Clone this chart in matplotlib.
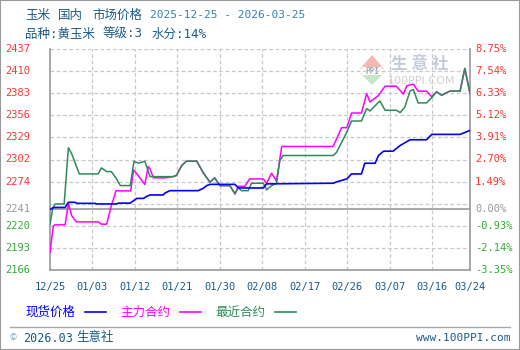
import matplotlib
matplotlib.use("Agg")
import matplotlib.pyplot as plt
import matplotlib.transforms as mtransforms
from matplotlib.lines import Line2D
from matplotlib.patches import Rectangle, Polygon
import numpy as np
import pandas as pd

plt.rcParams['font.family'] = ['Noto Sans CJK SC', 'DejaVu Sans']

# ---------------- data ----------------
start_date = "2025-12-25"
base_price = 2241

spot_day = [0, 0.7, 3.2, 3.9, 5.3, 5.8, 9.5, 10, 14.1, 14.5, 17, 17.7, 18.4, 19.8, 20.5, 21.2, 24, 24.4,
            25.4, 31.4, 32.5, 33.2, 33.9, 39.2, 39.9, 45.2, 45.9, 60, 60.7, 62.9, 63.9, 66, 66.7, 68.9,
            69.6, 70.7, 72.7, 74.2, 76.3, 79.8, 80.9, 86.9, 89]
spot_val = [2240, 2242.7, 2242.7, 2249, 2249, 2247.7, 2247.7, 2247, 2247, 2248, 2248, 2251, 2253.8, 2253.8,
            2256.3, 2258, 2258, 2260.5, 2263.3, 2263.3, 2266.2, 2269.5, 2271, 2271, 2266.6, 2266.6, 2271.6,
            2272.4, 2274, 2277.7, 2283.8, 2283.8, 2296.9, 2296.9, 2306.4, 2311.7, 2311.7, 2318.7, 2325.7,
            2325.7, 2332.3, 2332.3, 2337.2]

main_day = [0, 0.7, 1.1, 3.2, 3.9, 4.6, 5.6, 10.2, 10.9, 12, 13, 14, 14.8, 17.1, 17.7, 18.7, 20.1, 20.8,
            21.2, 21.9, 24.4, 26.1, 26.8, 27.9, 28.9, 31.1, 32.5, 33.9, 34.9, 36, 38.1, 39.2, 39.9, 41.3,
            42.3, 45.2, 45.9, 46.96, 48, 49.1, 60, 61.8, 62.9, 63.9, 66, 67.1, 67.8, 69.6, 71, 73.4, 74.9,
            75.6, 77, 78, 79.8, 80.9, 81.9, 83, 84.7, 86.9, 87.9, 89]
main_val = [2187.3, 2220.2, 2221.4, 2221.4, 2247.7, 2232.5, 2225, 2225, 2222.2, 2222.2, 2244.8, 2263.3,
            2263, 2263, 2288.7, 2281.7, 2270.7, 2292.9, 2290, 2279, 2279, 2280.5, 2282, 2294, 2299.4,
            2299.4, 2285, 2273.6, 2279, 2269.5, 2269.5, 2259, 2268.6, 2268.6, 2277.7, 2277.7, 2272.4,
            2284.6, 2275, 2317.5, 2317.5, 2340.5, 2340.5, 2358.5, 2358.5, 2382.4, 2372.1, 2380, 2391.4,
            2391.4, 2381.6, 2392, 2393.9, 2385.3, 2385.3, 2378.3, 2384.5, 2380.3, 2385.3, 2385.3, 2413.2,
            2382.4]

near_day = [0, 0.56, 1.1, 3, 3.9, 4.6, 6.2, 10.2, 10.9, 12, 13, 14.1, 14.9, 17, 17.8, 18.7, 20.1, 21.2,
            26.1, 26.8, 27.9, 28.9, 31.1, 32.5, 33.9, 34.9, 36, 38.1, 39.2, 39.9, 40.6, 42, 42.7, 45.2,
            45.9, 46.96, 48, 48.7, 49.4, 60, 60.7, 62.9, 63.9, 66, 67.1, 67.8, 69.9, 71, 73.4, 74.2, 75.2,
            76.3, 77, 78, 79.8, 80.9, 81.9, 83, 84.7, 86.9, 87.9, 89]
near_val = [2222, 2240.7, 2247, 2247, 2316, 2308.5, 2283.8, 2283.8, 2291.2, 2286.7, 2286.7, 2277.7,
            2269.5, 2269.5, 2299.4, 2297, 2299.4, 2280.5, 2280.5, 2282, 2294, 2299.4, 2299.4, 2285,
            2273.6, 2279, 2269.5, 2269.5, 2260, 2266.6, 2263.3, 2263.3, 2272.4, 2272.4, 2264.2, 2269.5,
            2272.4, 2300.3, 2306.4, 2306.4, 2310, 2335.1, 2348.7, 2348.7, 2363.9, 2361, 2373.3, 2361.9,
            2361.9, 2359, 2366, 2385.7, 2387.3, 2370.9, 2370.9, 2377.5, 2384.5, 2380.3, 2385.3, 2385.3,
            2413.2, 2382.4]

left_ticks = [2437, 2410, 2383, 2356, 2329, 2302, 2274, 2241, 2220, 2193, 2166]
right_ticks = ["8.75%", "7.54%", "6.33%", "5.12%", "3.91%", "2.70%", "1.49%", "0.00%",
               "-0.93%", "-2.14%", "-3.35%"]
right_pct = [8.75, 7.54, 6.33, 5.12, 3.91, 2.70, 1.49, 0.00, -0.93, -2.14, -3.35]
x_tick_dates = ["2025-12-25", "2026-01-03", "2026-01-12", "2026-01-21", "2026-01-30", "2026-02-08",
                "2026-02-17", "2026-02-26", "2026-03-07", "2026-03-16", "2026-03-24"]
series_names = ["现货价格", "主力合约", "最近合约"]

title1_words = ["玉米", "国内", "市场价格"]
title_dates = "2025-12-25 - 2026-03-25"
title2_words = ["品种:黄玉米", "等级:3", "水分:14%"]

# ---------------- style ----------------
W, H = 520, 350
C_BLUE = "#0000ff"
C_MAG = "#ff00ff"
C_GREEN = "#2e8b57"
C_RED = "#ff3333"
C_LGREEN = "#33aa33"
C_GRAY = "#999999"
C_TXT = "#1b5a86"
C_TXT2 = "#3580b5"
GRID = "#c8c8c8"
MONO = ['DejaVu Sans Mono', 'Noto Sans CJK SC']

fig = plt.figure(figsize=(W / 100, H / 100), dpi=100)
fig.patch.set_facecolor("white")

def fx(px):
    return px / W

def fy(py):
    return 1 - py / H

L, R, T, B = 50, 470, 49, 270
ax = fig.add_axes([fx(L), fy(B), (R - L) / W, (B - T) / H])
ax.set_xlim(0, 89)
ax.set_ylim(2166, 2437)
ax.set_xticks([])
ax.set_yticks([])
for s in ["left", "right", "bottom"]:
    ax.spines[s].set_color(C_GRAY)
    ax.spines[s].set_linewidth(1.2)
ax.spines["top"].set_visible(False)

start = pd.Timestamp(start_date)
tick_pos = [(pd.Timestamp(d) - start).days for d in x_tick_dates]

# grid
for gy in np.linspace(2166, 2437, 11):
    ax.axhline(gy, color=GRID, lw=0.9, ls=(0, (3, 2)), zorder=1)
for gx in tick_pos[1:-1]:
    ax.axvline(gx, color=GRID, lw=0.9, ls=(0, (3, 2)), zorder=1)
ax.axhline(base_price, color=C_GRAY, lw=1.2, zorder=2)

# watermark logo
ax_w = fig.add_axes([0, 0, 1, 1], zorder=0.5)
ax_w.set_xlim(0, W)
ax_w.set_ylim(H, 0)
ax_w.axis("off")
ax_w.patch.set_alpha(0)
ax_w.add_patch(Polygon([[360, 69], [384, 69], [372, 55]], closed=True, color="#f5b8b0", lw=0))
ax_w.add_patch(Polygon([[360, 73], [384, 73], [372, 85]], closed=True, color="#c4e8c4", lw=0))
ax_w.add_patch(Rectangle((362, 67), 20, 8, color="white", lw=0))
ax_w.text(372, 71, "PPI", fontsize=5.5, color="#a0a8b8", ha="center", va="center",
          family=MONO, fontweight="bold")
ax_w.text(420, 64, "生 意 社", fontsize=12, color="#c4ccdc", ha="center", va="center",
          fontweight="bold")
ax_w.text(422, 81, "100PPI.COM", fontsize=8, color="#d0d0d0", ha="center", va="center",
          family=['DejaVu Sans'])

ax.patch.set_alpha(0)
ax.set_zorder(1)

# lines
ax.plot(main_day, main_val, color=C_MAG, lw=1.1, zorder=3)
ax.plot(near_day, near_val, color=C_GREEN, lw=1.1, zorder=4)
ax.plot(spot_day, spot_val, color=C_BLUE, lw=1.2, zorder=5)

# y labels
trans = mtransforms.blended_transform_factory(fig.transFigure, ax.transData)
for v in left_ticks:
    c = C_RED if v > base_price else (C_GRAY if v == base_price else C_LGREEN)
    fig.text(fx(5), v, str(v), transform=trans, color=c, fontsize=7.5, ha="left",
             va="center", family=MONO)
for lab, p in zip(right_ticks, right_pct):
    v = base_price * (1 + p / 100)
    c = C_RED if p > 0 else (C_GRAY if p == 0 else C_LGREEN)
    fig.text(fx(475), v, lab, transform=trans, color=c, fontsize=7.5, ha="left",
             va="center", family=MONO)

# x labels
transx = mtransforms.blended_transform_factory(ax.transData, fig.transFigure)
for d, p in zip(x_tick_dates, tick_pos):
    lab = pd.Timestamp(d).strftime("%m/%d")
    fig.text(p, fy(287), lab, transform=transx, color=C_TXT, fontsize=7.5, ha="center",
             va="center", family=MONO)

# titles
for word, x0 in zip(title1_words, [25, 58, 92]):
    fig.text(fx(x0), fy(15), word, color=C_TXT, fontsize=9, ha="left", va="center")
fig.text(fx(150), fy(15), title_dates, color=C_TXT2, fontsize=8, ha="left", va="center",
         family=MONO)
for word, x0 in zip(title2_words, [25, 103, 152]):
    fig.text(fx(x0), fy(34), word, color=C_TXT, fontsize=9, ha="left", va="center",
             family=['DejaVu Sans Mono', 'Noto Sans CJK SC'])

# legend
leg_colors = [C_BLUE, C_MAG, C_GREEN]
leg_x = [25, 120, 215]
for name, c, x0 in zip(series_names, leg_colors, leg_x):
    fig.text(fx(x0), fy(312), name, color=c, fontsize=9, ha="left", va="center")
    fig.add_artist(Line2D([fx(x0 + 60), fx(x0 + 81)], [fy(312), fy(312)], color=c, lw=1.2))

# footer
fig.add_artist(Line2D([fx(10), fx(510)], [fy(327), fy(327)], color="#aaaaaa", lw=1))
fig.text(fx(10), fy(338), "©", color="#7a9cb8", fontsize=6, ha="left", va="center")
fig.text(fx(23), fy(338), "2026.03", color=C_TXT, fontsize=8.5, ha="left", va="center",
         family=MONO)
fig.text(fx(76), fy(338), "生意社", color=C_TXT, fontsize=9, ha="left", va="center")
fig.text(fx(510), fy(338), "www.100PPI.com", color=C_TXT, fontsize=8, ha="right", va="center",
         family=MONO)

# outer border
fig.add_artist(Rectangle((0, 0), 1, 1, transform=fig.transFigure, fill=False,
                         edgecolor="#999999", lw=1.5))

fig.savefig("out.png", dpi=100, facecolor="white")
